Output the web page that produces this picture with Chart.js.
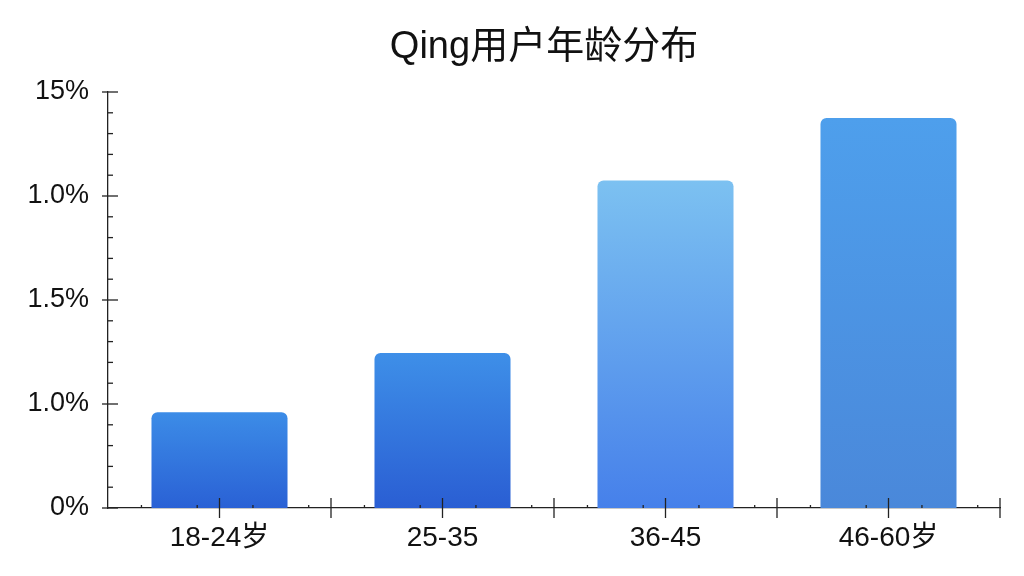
<!DOCTYPE html>
<html>
<head>
<meta charset="utf-8">
<script src="https://cdn.jsdelivr.net/npm/chart.js@4"></script>
<style>
html,body{margin:0;padding:0;background:#fff;}
#wrap{width:1024px;height:576px;}
</style>
</head>
<body>
<div id="wrap"><canvas id="c" width="1024" height="576"></canvas></div>
<script>
const titleText = 'Qing用户年龄分布';
const categories = ['18-24岁', '25-35', '36-45', '46-60岁'];
// values in axis-tick units (tick i carries yTickLabels[i])
const values = [0.92, 1.49, 3.15, 3.75];
const yTickLabels = ['0%', '1.0%', '1.5%', '1.0%', '15%'];
const gradTop = ['#3c8ce7', '#3e8fe8', '#7cc1f1', '#4e9fec'];
const gradBottom = ['#2a61d5', '#2a5ed3', '#4680ea', '#4a88da'];

const FONT = '"Liberation Sans", Arial, "Noto Sans CJK SC", sans-serif';

const tickPlugin = {
  id: 'axisTicks',
  afterDraw(chart) {
    const ctx = chart.ctx;
    const x = chart.scales.x, y = chart.scales.y;
    ctx.save();
    ctx.strokeStyle = '#222';
    ctx.lineWidth = 1.3;
    const ax = x.left, ay = y.bottom;
    for (let i = y.min; i <= y.max; i++) {
      const py = y.getPixelForValue(i);
      ctx.beginPath(); ctx.moveTo(ax - 6, py); ctx.lineTo(ax + 10, py); ctx.stroke();
      if (i < y.max) {
        for (let k = 1; k < 5; k++) {
          const pm = y.getPixelForValue(i + k / 5);
          ctx.beginPath(); ctx.moveTo(ax, pm); ctx.lineTo(ax + 5, pm); ctx.stroke();
        }
      }
    }
    const n = categories.length;
    for (let i = 0; i < n; i++) {
      const c = x.getPixelForValue(i);
      ctx.beginPath(); ctx.moveTo(c, ay - 10); ctx.lineTo(c, ay + 10); ctx.stroke();
      const b = x.getPixelForValue(i + 0.5);
      ctx.beginPath(); ctx.moveTo(b, ay - 10); ctx.lineTo(b, ay + 10); ctx.stroke();
      [0.15, 0.4, 0.65, 0.9].forEach(f => {
        const pm = x.getPixelForValue(i - 0.5 + f);
        ctx.beginPath(); ctx.moveTo(pm, ay - 3); ctx.lineTo(pm, ay); ctx.stroke();
      });
    }
    // title, centred slightly left of the plot-area middle
    const area = chart.chartArea;
    ctx.fillStyle = '#111';
    ctx.font = '38px ' + FONT;
    ctx.textAlign = 'center';
    ctx.textBaseline = 'middle';
    ctx.fillText(titleText, (area.left + area.right) / 2 - 10, area.top / 2 + 2);
    ctx.restore();
  }
};

new Chart(document.getElementById('c'), {
  type: 'bar',
  data: {
    labels: categories,
    datasets: [{
      data: values,
      backgroundColor(ctx) {
        const chart = ctx.chart;
        const area = chart.chartArea;
        if (!area) return gradTop[ctx.dataIndex];
        const y = chart.scales.y;
        const top = y.getPixelForValue(values[ctx.dataIndex]);
        const g = chart.ctx.createLinearGradient(0, top, 0, area.bottom);
        g.addColorStop(0, gradTop[ctx.dataIndex]);
        g.addColorStop(1, gradBottom[ctx.dataIndex]);
        return g;
      },
      borderRadius: { topLeft: 6, topRight: 6, bottomLeft: 0, bottomRight: 0 },
      borderSkipped: false,
      barPercentage: 0.61,
      categoryPercentage: 1.0
    }]
  },
  options: {
    responsive: false,
    animation: false,
    devicePixelRatio: 1,
    layout: { padding: { left: 16, right: 24, top: 92, bottom: 0 } },
    plugins: {
      legend: { display: false },
      tooltip: { enabled: false },
      title: { display: false }
    },
    scales: {
      x: {
        offset: true,
        grid: { display: false, drawTicks: false },
        border: { display: true, color: '#222', width: 1.3 },
        ticks: { color: '#111', font: { family: FONT, size: 28 }, padding: 13 },
        afterFit(s) { s.height = 68; }
      },
      y: {
        min: 0, max: 4,
        grid: { display: false, drawTicks: false },
        border: { display: true, color: '#222', width: 1.3 },
        ticks: {
          stepSize: 1,
          color: '#111',
          font: { family: FONT, size: 27 },
          padding: 19,
          callback: (v) => yTickLabels[v]
        },
        afterFit(s) { s.width = 92; }
      }
    }
  },
  plugins: [tickPlugin]
});
</script>
</body>
</html>
